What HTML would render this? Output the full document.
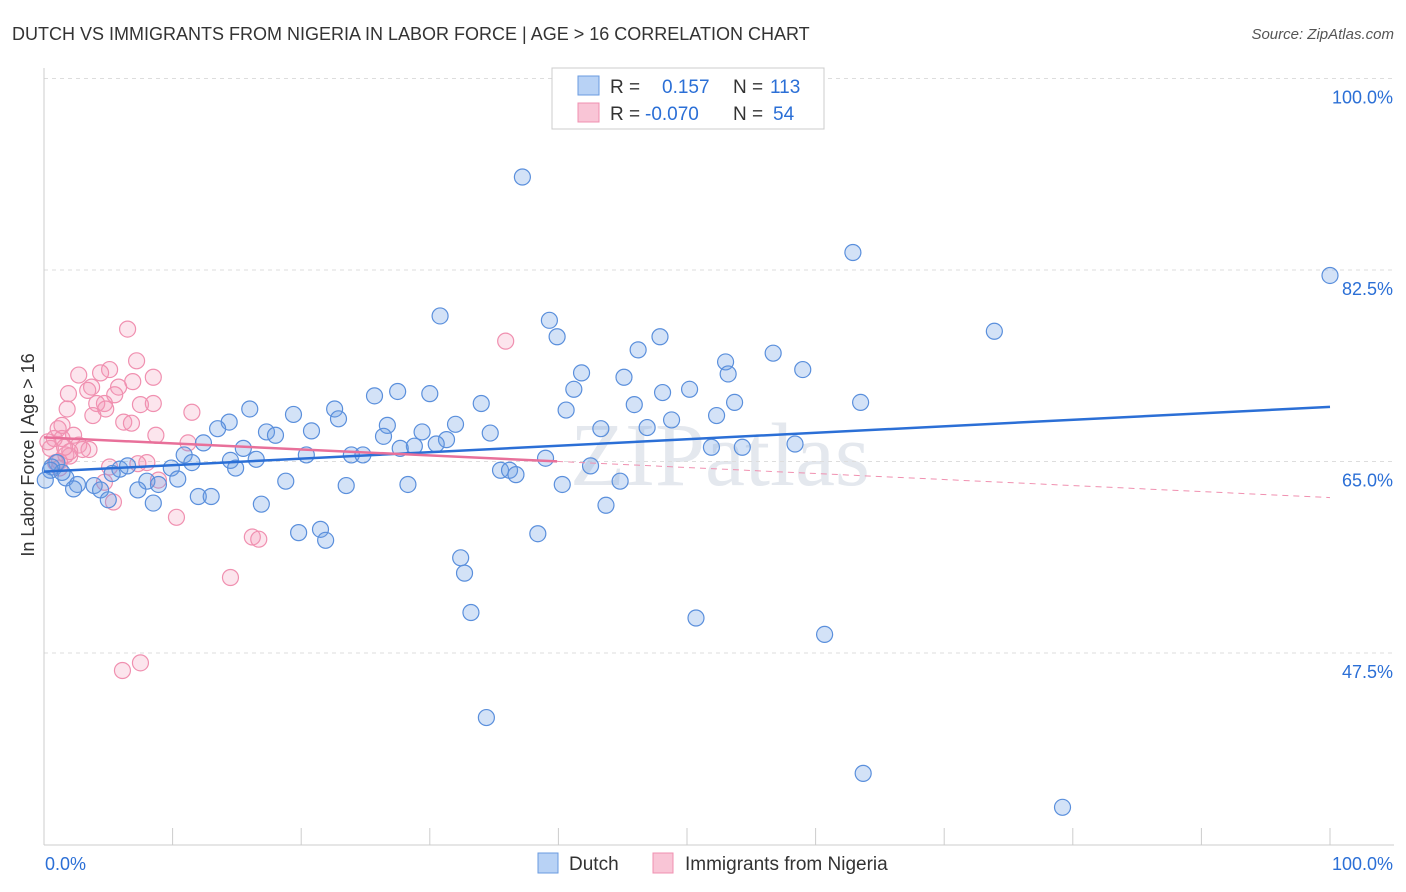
<!DOCTYPE html>
<html><head><meta charset="utf-8"><style>
body{margin:0;background:#fff;font-family:"Liberation Sans",sans-serif}
svg{display:block}
</style></head><body>
<svg id="c" width="1406" height="892" xmlns="http://www.w3.org/2000/svg">
<text x="12" y="40" font-size="18" fill="#333">DUTCH VS IMMIGRANTS FROM NIGERIA IN LABOR FORCE | AGE &gt; 16 CORRELATION CHART</text>
<text x="1394" y="39" font-size="15" fill="#555" font-style="italic" text-anchor="end">Source: ZipAtlas.com</text>
<text x="720" y="485" font-size="90" fill="#e4e8ee" text-anchor="middle" font-family="Liberation Serif, serif">ZIPatlas</text>
<text transform="translate(34,455) rotate(-90)" font-size="18" fill="#333" text-anchor="middle">In Labor Force | Age &gt; 16</text>
<g id="grid"></g><g id="pts"></g><g id="lines"></g>
<g>
<rect x="552" y="68" width="272" height="61" fill="#fff" stroke="#ccc"/>
<rect x="578" y="76" width="21" height="19" fill="#b8d2f5" stroke="#6a9be0"/>
<rect x="578" y="103" width="21" height="19" fill="#f9c5d6" stroke="#f090b0"/>
<text x="610" y="93" font-size="19" fill="#333">R = <tspan fill="#2b6fd6" x="662">0.157</tspan><tspan x="733" fill="#333">N = </tspan><tspan fill="#2b6fd6" x="770">113</tspan></text>
<text x="610" y="120" font-size="19" fill="#333">R = <tspan fill="#2b6fd6" x="645">-0.070</tspan><tspan x="733" fill="#333">N = </tspan><tspan fill="#2b6fd6" x="773">54</tspan></text>
</g>
<g>
<rect x="538" y="853" width="20" height="20" fill="#b8d2f5" stroke="#6a9be0"/>
<text x="569" y="870" font-size="19" fill="#333">Dutch</text>
<rect x="653" y="853" width="20" height="20" fill="#f9c5d6" stroke="#f090b0"/>
<text x="685" y="870" font-size="19" fill="#333">Immigrants from Nigeria</text>
</g>
</svg>
<script>
const yTicks=[47.5,65.0,82.5,100.0];
const yTickLabels=["47.5%","65.0%","82.5%","100.0%"];
const dutchX=[37.2,62.9,100,73.9,30.8,39.3,39.9,47.9,46.2,56.7,53.0,59.0,41.8,53.2,45.1,41.2,50.2,48.1,25.7,27.5,30.0,53.7,63.5,34.0,45.9,40.6,16.0,22.6,19.4,52.3,48.8,22.9,14.4,32.0,26.7,13.5,43.3,17.3,20.8,46.9,18.0,34.7,26.4,29.4,31.3,30.5,12.4,28.8,27.7,58.4,54.3,51.9,15.5,10.9,20.4,23.9,24.8,39.0,16.5,14.5,11.5,9.9,5.9,6.5,1.0,0.6,1.7,14.9,35.5,36.2,36.7,42.5,1.4,2.6,5.3,8.0,10.4,2.3,3.9,4.4,7.3,8.9,18.8,23.5,28.3,40.3,44.8,5.0,8.5,12.0,13.0,16.9,43.7,19.8,21.5,21.9,38.4,32.4,32.7,33.2,50.7,60.7,34.4,63.7,79.2,0.5,0.1];
const dutchY=[91.0,84.1,82.0,76.9,78.3,77.9,76.4,76.4,75.2,74.9,74.1,73.4,73.1,73.0,72.7,71.6,71.6,71.3,71.0,71.4,71.2,70.4,70.4,70.3,70.2,69.7,69.8,69.8,69.3,69.2,68.8,68.9,68.6,68.4,68.3,68.0,68.0,67.7,67.8,68.1,67.4,67.6,67.3,67.7,67.0,66.6,66.7,66.4,66.2,66.6,66.3,66.3,66.2,65.6,65.6,65.6,65.6,65.3,65.2,65.1,64.9,64.4,64.3,64.6,64.9,64.5,63.5,64.4,64.2,64.2,63.8,64.6,64.0,62.9,63.9,63.2,63.4,62.5,62.8,62.4,62.4,62.9,63.2,62.8,62.9,62.9,63.2,61.5,61.2,61.8,61.8,61.1,61.0,58.5,58.8,57.8,58.4,56.2,54.8,51.2,50.7,49.2,41.6,36.5,33.4,64.2,63.3];
const nigX=[6.5,35.9,7.2,5.1,2.7,4.4,8.5,6.9,3.7,5.8,1.9,3.4,5.5,4.7,7.5,4.1,1.8,8.5,11.5,4.8,3.8,6.2,6.8,1.4,1.1,2.3,8.7,0.8,1.4,11.2,2.7,3.5,3.0,1.7,2.0,1.2,0.9,8.0,7.3,5.1,8.9,4.7,5.4,10.3,16.2,16.7,14.5,7.5,6.1,0.5,2.0,0.3,1.6,1.2];
const nigY=[77.1,76.0,74.2,73.4,72.9,73.1,72.7,72.3,71.8,71.8,71.2,71.5,71.1,70.3,70.2,70.3,69.8,70.3,69.5,69.8,69.2,68.6,68.5,68.3,68.0,67.4,67.4,67.1,67.1,66.7,66.5,66.1,66.1,65.6,65.5,65.0,64.9,64.9,64.8,64.5,63.3,63.1,61.3,59.9,58.1,57.9,54.4,46.6,45.9,66.2,65.9,66.8,66.3,64.4];
const NS="http://www.w3.org/2000/svg";
const X0=44,X1=1330,Y100=78.5,PX=191.5/17.5;
const sx=v=>X0+(X1-X0)*v/100, sy=v=>Y100+(100-v)*PX;
function mk(t,a,p){const e=document.createElementNS(NS,t);for(const k in a)e.setAttribute(k,a[k]);p.appendChild(e);return e;}
const grid=document.getElementById('grid');
yTicks.forEach((t,i)=>{
 const l=mk('line',{x1:X0,x2:1394,y1:sy(t),y2:sy(t),stroke:'#ddd','stroke-dasharray':'4,4'},grid);
 
 
 const tx=mk('text',{x:1393,y:sy(t)+25,'font-size':18,fill:'#2b6fd6','text-anchor':'end'},grid);
 tx.textContent=yTickLabels[i];
 
 
});
const ax=mk('line',{x1:X0,x2:X0,y1:68,y2:845,stroke:'#ccc'},grid);


const bx=mk('line',{x1:X0,x2:1394,y1:845,y2:845,stroke:'#ccc'},grid);


for(let i=0;i<=10;i++){const t=mk('line',{x1:sx(i*10),x2:sx(i*10),y1:828,y2:845,stroke:'#ccc'},grid);
 
 }
[["0.0%",45,'start'],["100.0%",1393,'end']].forEach(([s,x,a])=>{const t=mk('text',{x:x,y:870,'font-size':18,fill:'#2b6fd6','text-anchor':a},grid);t.textContent=s;
 
 });
const pts=document.getElementById('pts');
function scatter(xs,ys,fill,stroke,name){xs.forEach((x,i)=>{const c=mk('circle',{cx:sx(x),cy:sy(ys[i]),r:8,fill:fill,stroke:stroke,'stroke-width':1.2},pts);
 
 });}
scatter(nigX,nigY,'rgba(244,150,185,0.25)','#f090b0','nigeria-point');
scatter(dutchX,dutchY,'rgba(110,160,230,0.3)','#5a8fdc','dutch-point');
function fit(xs,ys){const n=xs.length;let mx=0,my=0;xs.forEach((x,i)=>{mx+=x;my+=ys[i]});mx/=n;my/=n;let a=0,b=0;xs.forEach((x,i)=>{a+=(x-mx)*(ys[i]-my);b+=(x-mx)**2});const s=a/b;return x=>my+s*(x-mx);}
const lines=document.getElementById('lines');
const fd=fit(dutchX,dutchY);
const l1=mk('line',{x1:sx(0),y1:sy(fd(0)),x2:sx(100),y2:sy(fd(100)),stroke:'#2b6fd6','stroke-width':2.5},lines);


const fn=fit(nigX,nigY);const mxN=Math.max(...nigX);
const l2=mk('line',{x1:sx(0),y1:sy(fn(0)),x2:sx(mxN+4),y2:sy(fn(mxN+4)),stroke:'#e8709a','stroke-width':2.5},lines);


const l3=mk('line',{x1:sx(mxN+4),y1:sy(fn(mxN+4)),x2:sx(100),y2:sy(fn(100)),stroke:'#f090b0','stroke-width':1,'stroke-dasharray':'6,5'},lines);


</script>
</body></html>
